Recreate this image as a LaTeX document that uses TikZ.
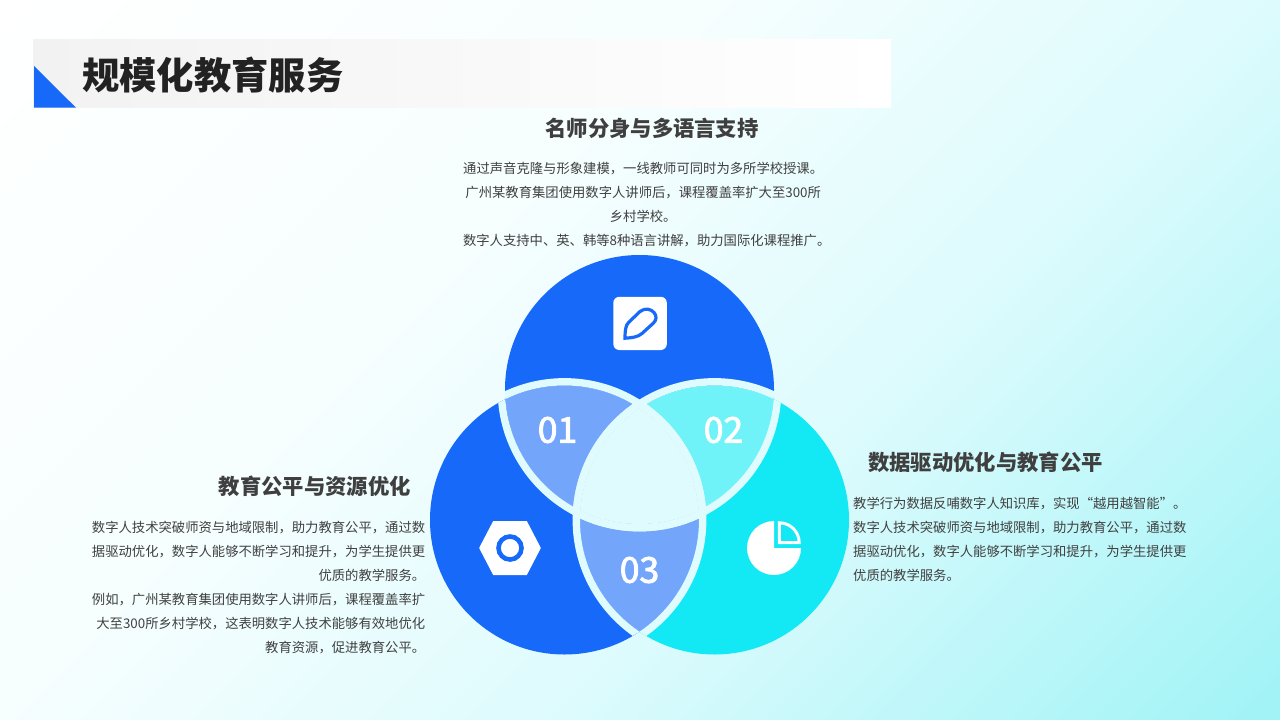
\documentclass[tikz,border=0pt]{standalone}
\usepackage{fontspec}
\setmainfont{Noto Sans CJK SC}
\definecolor{bluemain}{HTML}{1769FA}
\definecolor{cyanmain}{HTML}{12E9F5}
\definecolor{bluelight}{HTML}{73A5FA}
\definecolor{cyanlight}{HTML}{70F3F8}
\definecolor{bandcol}{HTML}{DFFBFD}
\definecolor{bodytext}{HTML}{404040}
\definecolor{headtext}{HTML}{3F3F3F}
\definecolor{titletext}{HTML}{222222}
\definecolor{bgb}{HTML}{F6FEFE}
\definecolor{bgc}{HTML}{DDFBFD}
\definecolor{bgd}{HTML}{A0F3F6}
\definecolor{barleft}{HTML}{F2F2F2}
\pgfdeclarehorizontalshading{bgshade}{100bp}{
  color(0bp)=(white); color(22.4bp)=(white);
  color(42.3bp)=(bgb); color(57.7bp)=(bgc);
  color(77.6bp)=(bgd); color(100bp)=(bgd)}
\newcommand{\heavydigits}[1]{\special{pdf:code 2 Tr 0.9 w 1 1 1 RG}#1\special{pdf:code 0 Tr}}
\tikzset{
  bodyblock/.style={inner sep=0pt,text=bodytext,font=\fontsize{13.33}{24}\selectfont},
  headlabel/.style={inner sep=0pt,text=headtext,font=\fontsize{21.33}{26}\selectfont\bfseries},
  numlabel/.style={inner sep=0pt,text=white,font=\fontsize{35.5}{40}\selectfont},
  titlelabel/.style={inner sep=0pt,text=titletext,font=\fontsize{37.33}{44}\selectfont\bfseries},
  band/.style={draw=bandcol,line width=7.4pt}
}
\def\circT{(639.5,389.5) circle[radius=134.5]}
\def\circL{(564.5,520) circle[radius=134.5]}
\def\circR{(714.5,520) circle[radius=134.5]}
\begin{document}
\begin{tikzpicture}[x=1pt,y=-1pt]
\useasboundingbox (0,0) rectangle (1280,720);
% background
\begin{scope}
  \clip (0,0) rectangle (1280,720);
  \shade[shading=bgshade,shading angle=-45] (0,-280) rectangle (1280,1000);
\end{scope}
% title bar
\shade[left color=barleft,right color=white] (33,39) rectangle (891,107.7);
\fill[bluemain] (34,66) -- (76,107.7) -- (34,107.7) -- cycle;
\node[titlelabel,anchor=west] (title) at (82,75) {规模化教育服务};
% discs
\fill[bluemain] \circT;
\fill[bluemain] \circL;
\fill[cyanmain] \circR;
% pairwise overlaps
\begin{scope}\clip \circT; \fill[bluelight] \circL; \end{scope}
\begin{scope}\clip \circT; \fill[cyanlight] \circR; \end{scope}
\begin{scope}\clip \circL; \fill[bluelight] \circR; \end{scope}
% bands outside each disc, seen only on the other discs
\begin{scope}\clip \circT;
  \draw[band] (564.5,520) circle[radius=138.2];
  \draw[band] (714.5,520) circle[radius=138.2];
\end{scope}
\begin{scope}\clip \circL;
  \draw[band] (639.5,389.5) circle[radius=138.2];
  \draw[band] (714.5,520) circle[radius=138.2];
\end{scope}
\begin{scope}\clip \circR;
  \draw[band] (639.5,389.5) circle[radius=138.2];
  \draw[band] (564.5,520) circle[radius=138.2];
\end{scope}
% centre
\begin{scope}\clip \circT; \clip \circL; \fill[bandcol] \circR; \end{scope}
% numbers
\node[numlabel] (n1) at (557.5,430) {\heavydigits{01}};
\node[numlabel] (n2) at (723.5,430) {\heavydigits{02}};
\node[numlabel] (n3) at (639.5,570) {\heavydigits{03}};
% pencil icon
\fill[white,rounded corners=6pt] (613.3,296.8) rectangle (666.8,350);
\draw[bluemain,line width=3.2pt,line join=miter]
  (625,338.2) .. controls (625,331) and (625.5,325.5) .. (628.5,322.5)
  -- (640,311.5) .. controls (645,307.5) and (651,309) .. (654,312.5)
  .. controls (657,316) and (656.5,320) .. (653.5,323)
  -- (642,333.5) .. controls (638,337) and (632,337.8) .. cycle;
% hexagon icon
\fill[white,draw=white,line width=1pt,line join=round]
  (479.7,548) -- (493.5,521.5) -- (526.5,521.5) -- (540.3,548) -- (526.5,574.5) -- (493.5,574.5) -- cycle;
\draw[bluemain,line width=4.6pt] (510,548) circle[radius=11.5];
% pie icon
\fill[white] (774,548) -- (774,521) arc[start angle=270,end angle=0,radius=27] -- cycle;
\draw[white,line width=3pt,line join=miter]
  (779.3,542.7) -- (779.3,522.8) arc[start angle=270,end angle=360,radius=19.9] -- cycle;
% texts
\node[headlabel] (h1) at (652,128) {名师分身与多语言支持};
\node[bodyblock,align=center] (b1) at (643.2,205) {通过声音克隆与形象建模，一线教师可同时为多所学校授课。\\广州某教育集团使用数字人讲师后，课程覆盖率扩大至300所\\乡村学校。\\\hspace*{7pt}数字人支持中、英、韩等8种语言讲解，助力国际化课程推广。};
\node[headlabel,anchor=east] (h2) at (411,486) {教育公平与资源优化};
\node[bodyblock,align=right,anchor=east] (b2) at (425.4,587.3) {数字人技术突破师资与地域限制，助力教育公平，通过数\\据驱动优化，数字人能够不断学习和提升，为学生提供更\\优质的教学服务。\\例如，广州某教育集团使用数字人讲师后，课程覆盖率扩\\大至300所乡村学校，这表明数字人技术能够有效地优化\\教育资源，促进教育公平。};
\node[headlabel,anchor=west] (h3) at (868,462) {数据驱动优化与教育公平};
\node[bodyblock,align=left,anchor=west] (b3) at (853,539) {教学行为数据反哺数字人知识库，实现“越用越智能”。\\数字人技术突破师资与地域限制，助力教育公平，通过数\\据驱动优化，数字人能够不断学习和提升，为学生提供更\\优质的教学服务。};
\end{tikzpicture}
\end{document}
